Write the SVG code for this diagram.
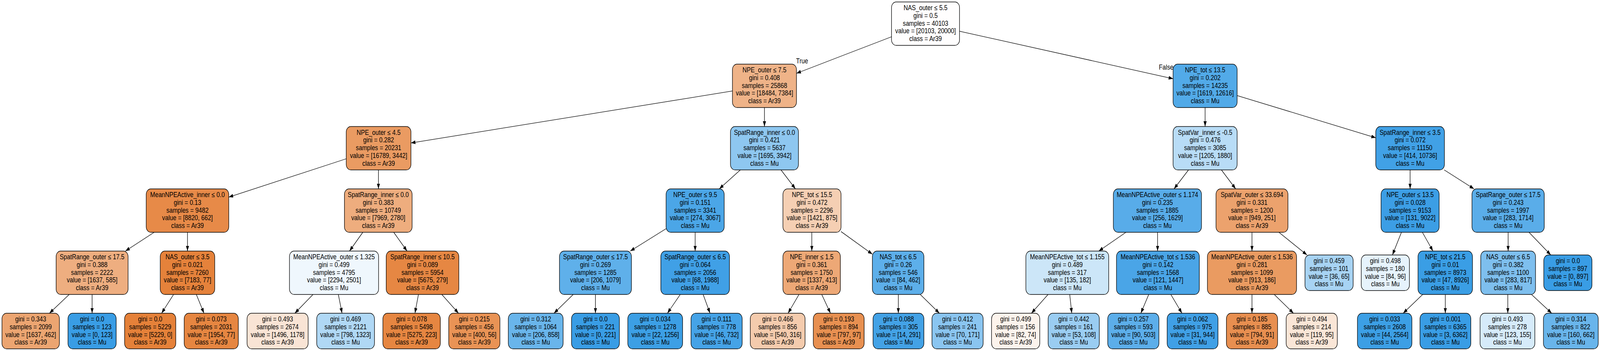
<svg xmlns="http://www.w3.org/2000/svg" width="4847" height="895" viewBox="0 0 4847 895">
<defs>
<marker id="ah" markerUnits="userSpaceOnUse" markerWidth="14" markerHeight="10" refX="13.5" refY="4.75" orient="auto"><path d="M0,0 L13.5,4.75 L0,9.5 z" fill="#000"/></marker>
<style>
text{font-family:"Liberation Sans",Arial,Helvetica,sans-serif;font-size:18px;text-anchor:middle;fill:#000}
.nd rect{stroke:#000;stroke-width:1.3;vector-effect:non-scaling-stroke}
#edges line{stroke:#000;stroke-width:1.3;fill:none;marker-end:url(#ah);vector-effect:non-scaling-stroke}
</style>
</defs>
<rect width="4847" height="895" fill="#fff"/>
<g id="diagram" transform="scale(0.845,1)">
<g id="edges">
<line x1="2701" y1="94" x2="2413" y2="187.5"/>
<line x1="2907" y1="79.8" x2="3554" y2="201.3"/>
<line x1="2219" y1="232.7" x2="1245" y2="365.6"/>
<line x1="2316" y1="275" x2="2316" y2="323.5"/>
<line x1="3651" y1="275" x2="3651" y2="323.5"/>
<line x1="3748" y1="244.4" x2="4168" y2="352.3"/>
<line x1="1049" y1="406" x2="693" y2="504.1"/>
<line x1="1146.5" y1="434.5" x2="1146.5" y2="483"/>
<line x1="2242.9" y1="434.5" x2="2179.1" y2="483"/>
<line x1="2366.1" y1="434.5" x2="2409.9" y2="483"/>
<line x1="3600.7" y1="434.5" x2="3556.8" y2="483"/>
<line x1="3700.4" y1="434.5" x2="3743.6" y2="483"/>
<line x1="4272" y1="434.5" x2="4272" y2="483"/>
<line x1="4375.4" y1="434.5" x2="4465.6" y2="483"/>
<line x1="467.1" y1="594" x2="379.9" y2="642"/>
<line x1="568" y1="594" x2="568" y2="642"/>
<line x1="1099.2" y1="594" x2="1058.8" y2="642"/>
<line x1="1192.8" y1="594" x2="1233.2" y2="642"/>
<line x1="2018" y1="584.8" x2="1909.4" y2="642"/>
<line x1="2106" y1="594" x2="2106" y2="642"/>
<line x1="2459.5" y1="594" x2="2459.5" y2="642"/>
<line x1="2548" y1="592.1" x2="2643" y2="650"/>
<line x1="3411.2" y1="594" x2="3328.8" y2="642"/>
<line x1="3507" y1="594" x2="3507" y2="642"/>
<line x1="3793" y1="594" x2="3793" y2="642"/>
<line x1="3874.5" y1="594" x2="3959.7" y2="652"/>
<line x1="4245.8" y1="594" x2="4218.5" y2="652"/>
<line x1="4309.2" y1="594" x2="4341.3" y2="642"/>
<line x1="4569" y1="594" x2="4569" y2="642"/>
<line x1="4632.2" y1="594" x2="4698.2" y2="652"/>
<line x1="209.7" y1="753" x2="149.8" y2="801"/>
<line x1="279" y1="753" x2="279" y2="801"/>
<line x1="525.9" y1="753" x2="489.5" y2="801"/>
<line x1="594.8" y1="753" x2="618" y2="801"/>
<line x1="948.3" y1="753" x2="893.2" y2="801"/>
<line x1="1025" y1="753" x2="1036.3" y2="801"/>
<line x1="1267.7" y1="753" x2="1257.1" y2="801"/>
<line x1="1338.5" y1="753" x2="1389.1" y2="801"/>
<line x1="1736.6" y1="753" x2="1678.3" y2="801"/>
<line x1="1804" y1="753" x2="1804" y2="801"/>
<line x1="2060.9" y1="753" x2="2022" y2="801"/>
<line x1="2130.2" y1="753" x2="2151.1" y2="801"/>
<line x1="2420.6" y1="753" x2="2387.5" y2="801"/>
<line x1="2489.5" y1="753" x2="2516" y2="801"/>
<line x1="2721.5" y1="753" x2="2721.5" y2="801"/>
<line x1="2788" y1="753" x2="2846" y2="801"/>
<line x1="3175.2" y1="753" x2="3124.8" y2="801"/>
<line x1="3240.8" y1="753" x2="3247" y2="801"/>
<line x1="3480.2" y1="753" x2="3456.3" y2="801"/>
<line x1="3547.1" y1="753" x2="3580.9" y2="801"/>
<line x1="3793" y1="753" x2="3793" y2="801"/>
<line x1="3860.4" y1="753" x2="3918.7" y2="801"/>
<line x1="4310.1" y1="753" x2="4251" y2="801"/>
<line x1="4378.7" y1="753" x2="4378.7" y2="801"/>
<line x1="4568" y1="753" x2="4568" y2="801"/>
<line x1="4639.8" y1="753" x2="4701" y2="801"/>
<text x="2430" y="162">True</text>
<text x="3533" y="178">False</text>
</g>
<g id="n0" class="nd" transform="translate(2804,60.5)"><rect x="-103" y="-55.5" width="206" height="111" rx="14" fill="#fffefe"/><text><tspan x="0" y="-34.4">NAS_outer ≤ 5.5</tspan><tspan x="0" y="-14.6">gini = 0.5</tspan><tspan x="0" y="5.2">samples = 40103</tspan><tspan x="0" y="25">value = [20103, 20000]</tspan><tspan x="0" y="44.8">class = Ar39</tspan></text></g>
<g id="n1" class="nd" transform="translate(2316,219.5)"><rect x="-97" y="-55.5" width="194" height="111" rx="14" fill="#efb388"/><text><tspan x="0" y="-34.4">NPE_outer ≤ 7.5</tspan><tspan x="0" y="-14.6">gini = 0.408</tspan><tspan x="0" y="5.2">samples = 25868</tspan><tspan x="0" y="25">value = [18484, 7384]</tspan><tspan x="0" y="44.8">class = Ar39</tspan></text></g>
<g id="n2" class="nd" transform="translate(3651,219.5)"><rect x="-97" y="-55.5" width="194" height="111" rx="14" fill="#52aae8"/><text><tspan x="0" y="-34.4">NPE_tot ≤ 13.5</tspan><tspan x="0" y="-14.6">gini = 0.202</tspan><tspan x="0" y="5.2">samples = 14235</tspan><tspan x="0" y="25">value = [1619, 12616]</tspan><tspan x="0" y="44.8">class = Mu</tspan></text></g>
<g id="n3" class="nd" transform="translate(1147,379)"><rect x="-98" y="-55.5" width="196" height="111" rx="14" fill="#ea9b62"/><text><tspan x="0" y="-34.4">NPE_outer ≤ 4.5</tspan><tspan x="0" y="-14.6">gini = 0.282</tspan><tspan x="0" y="5.2">samples = 20231</tspan><tspan x="0" y="25">value = [16789, 3442]</tspan><tspan x="0" y="44.8">class = Ar39</tspan></text></g>
<g id="n4" class="nd" transform="translate(2316,379)"><rect x="-103" y="-55.5" width="206" height="111" rx="14" fill="#8ec7f0"/><text><tspan x="0" y="-34.4">SpatRange_inner ≤ 0.0</tspan><tspan x="0" y="-14.6">gini = 0.421</tspan><tspan x="0" y="5.2">samples = 5637</tspan><tspan x="0" y="25">value = [1695, 3942]</tspan><tspan x="0" y="44.8">class = Mu</tspan></text></g>
<g id="n5" class="nd" transform="translate(3651,379)"><rect x="-97" y="-55.5" width="194" height="111" rx="14" fill="#b8dcf6"/><text><tspan x="0" y="-34.4">SpatVar_inner ≤ -0.5</tspan><tspan x="0" y="-14.6">gini = 0.476</tspan><tspan x="0" y="5.2">samples = 3085</tspan><tspan x="0" y="25">value = [1205, 1880]</tspan><tspan x="0" y="44.8">class = Mu</tspan></text></g>
<g id="n6" class="nd" transform="translate(4272,379)"><rect x="-104" y="-55.5" width="208" height="111" rx="14" fill="#41a1e6"/><text><tspan x="0" y="-34.4">SpatRange_inner ≤ 3.5</tspan><tspan x="0" y="-14.6">gini = 0.072</tspan><tspan x="0" y="5.2">samples = 11150</tspan><tspan x="0" y="25">value = [414, 10736]</tspan><tspan x="0" y="44.8">class = Mu</tspan></text></g>
<g id="n7" class="nd" transform="translate(568,538.5)"><rect x="-125" y="-55.5" width="250" height="111" rx="14" fill="#e78a48"/><text><tspan x="0" y="-34.4">MeanNPEActive_inner ≤ 0.0</tspan><tspan x="0" y="-14.6">gini = 0.13</tspan><tspan x="0" y="5.2">samples = 9482</tspan><tspan x="0" y="25">value = [8820, 662]</tspan><tspan x="0" y="44.8">class = Ar39</tspan></text></g>
<g id="n8" class="nd" transform="translate(1146,538.5)"><rect x="-102.5" y="-55.5" width="205" height="111" rx="14" fill="#eead7e"/><text><tspan x="0" y="-34.4">SpatRange_inner ≤ 0.0</tspan><tspan x="0" y="-14.6">gini = 0.383</tspan><tspan x="0" y="5.2">samples = 10749</tspan><tspan x="0" y="25">value = [7969, 2780]</tspan><tspan x="0" y="44.8">class = Ar39</tspan></text></g>
<g id="n9" class="nd" transform="translate(2106,538.5)"><rect x="-88" y="-55.5" width="176" height="111" rx="14" fill="#4ba6e7"/><text><tspan x="0" y="-34.4">NPE_outer ≤ 9.5</tspan><tspan x="0" y="-14.6">gini = 0.151</tspan><tspan x="0" y="5.2">samples = 3341</tspan><tspan x="0" y="25">value = [274, 3067]</tspan><tspan x="0" y="44.8">class = Mu</tspan></text></g>
<g id="n10" class="nd" transform="translate(2460,538.5)"><rect x="-88" y="-55.5" width="176" height="111" rx="14" fill="#f5cfb3"/><text><tspan x="0" y="-34.4">NPE_tot ≤ 15.5</tspan><tspan x="0" y="-14.6">gini = 0.472</tspan><tspan x="0" y="5.2">samples = 2296</tspan><tspan x="0" y="25">value = [1421, 875]</tspan><tspan x="0" y="44.8">class = Ar39</tspan></text></g>
<g id="n11" class="nd" transform="translate(3506.5,538.5)"><rect x="-133.5" y="-55.5" width="267" height="111" rx="14" fill="#58ace9"/><text><tspan x="0" y="-34.4">MeanNPEActive_outer ≤ 1.174</tspan><tspan x="0" y="-14.6">gini = 0.235</tspan><tspan x="0" y="5.2">samples = 1885</tspan><tspan x="0" y="25">value = [256, 1629]</tspan><tspan x="0" y="44.8">class = Mu</tspan></text></g>
<g id="n12" class="nd" transform="translate(3793,538.5)"><rect x="-109" y="-55.5" width="218" height="111" rx="14" fill="#eca26d"/><text><tspan x="0" y="-34.4">SpatVar_outer ≤ 33.694</tspan><tspan x="0" y="-14.6">gini = 0.331</tspan><tspan x="0" y="5.2">samples = 1200</tspan><tspan x="0" y="25">value = [949, 251]</tspan><tspan x="0" y="44.8">class = Ar39</tspan></text></g>
<g id="n13" class="nd" transform="translate(4272,538.5)"><rect x="-88" y="-55.5" width="176" height="111" rx="14" fill="#3c9ee5"/><text><tspan x="0" y="-34.4">NPE_outer ≤ 13.5</tspan><tspan x="0" y="-14.6">gini = 0.028</tspan><tspan x="0" y="5.2">samples = 9153</tspan><tspan x="0" y="25">value = [131, 9022]</tspan><tspan x="0" y="44.8">class = Mu</tspan></text></g>
<g id="n14" class="nd" transform="translate(4569,538.5)"><rect x="-109.5" y="-55.5" width="219" height="111" rx="14" fill="#5aade9"/><text><tspan x="0" y="-34.4">SpatRange_outer ≤ 17.5</tspan><tspan x="0" y="-14.6">gini = 0.243</tspan><tspan x="0" y="5.2">samples = 1997</tspan><tspan x="0" y="25">value = [283, 1714]</tspan><tspan x="0" y="44.8">class = Mu</tspan></text></g>
<g id="n15" class="nd" transform="translate(279,697.5)"><rect x="-109" y="-55.5" width="218" height="111" rx="14" fill="#eeae80"/><text><tspan x="0" y="-34.4">SpatRange_outer ≤ 17.5</tspan><tspan x="0" y="-14.6">gini = 0.388</tspan><tspan x="0" y="5.2">samples = 2222</tspan><tspan x="0" y="25">value = [1637, 585]</tspan><tspan x="0" y="44.8">class = Ar39</tspan></text></g>
<g id="n16" class="nd" transform="translate(568,697.5)"><rect x="-82.5" y="-55.5" width="165" height="111" rx="14" fill="#e5823b"/><text><tspan x="0" y="-34.4">NAS_outer ≤ 3.5</tspan><tspan x="0" y="-14.6">gini = 0.021</tspan><tspan x="0" y="5.2">samples = 7260</tspan><tspan x="0" y="25">value = [7183, 77]</tspan><tspan x="0" y="44.8">class = Ar39</tspan></text></g>
<g id="n17" class="nd" transform="translate(1012,697.5)"><rect x="-135" y="-55.5" width="270" height="111" rx="14" fill="#eff7fd"/><text><tspan x="0" y="-34.4">MeanNPEActive_outer ≤ 1.325</tspan><tspan x="0" y="-14.6">gini = 0.499</tspan><tspan x="0" y="5.2">samples = 4795</tspan><tspan x="0" y="25">value = [2294, 2501]</tspan><tspan x="0" y="44.8">class = Mu</tspan></text></g>
<g id="n18" class="nd" transform="translate(1280,697.5)"><rect x="-110" y="-55.5" width="220" height="111" rx="14" fill="#e68743"/><text><tspan x="0" y="-34.4">SpatRange_inner ≤ 10.5</tspan><tspan x="0" y="-14.6">gini = 0.089</tspan><tspan x="0" y="5.2">samples = 5954</tspan><tspan x="0" y="25">value = [5675, 279]</tspan><tspan x="0" y="44.8">class = Ar39</tspan></text></g>
<g id="n19" class="nd" transform="translate(1804,697.5)"><rect x="-109" y="-55.5" width="218" height="111" rx="14" fill="#5fb0ea"/><text><tspan x="0" y="-34.4">SpatRange_outer ≤ 17.5</tspan><tspan x="0" y="-14.6">gini = 0.269</tspan><tspan x="0" y="5.2">samples = 1285</tspan><tspan x="0" y="25">value = [206, 1079]</tspan><tspan x="0" y="44.8">class = Mu</tspan></text></g>
<g id="n20" class="nd" transform="translate(2106,697.5)"><rect x="-104" y="-55.5" width="208" height="111" rx="14" fill="#40a0e6"/><text><tspan x="0" y="-34.4">SpatRange_outer ≤ 6.5</tspan><tspan x="0" y="-14.6">gini = 0.064</tspan><tspan x="0" y="5.2">samples = 2056</tspan><tspan x="0" y="25">value = [68, 1988]</tspan><tspan x="0" y="44.8">class = Mu</tspan></text></g>
<g id="n21" class="nd" transform="translate(2459,697.5)"><rect x="-87" y="-55.5" width="174" height="111" rx="14" fill="#eda876"/><text><tspan x="0" y="-34.4">NPE_inner ≤ 1.5</tspan><tspan x="0" y="-14.6">gini = 0.361</tspan><tspan x="0" y="5.2">samples = 1750</tspan><tspan x="0" y="25">value = [1337, 413]</tspan><tspan x="0" y="44.8">class = Ar39</tspan></text></g>
<g id="n22" class="nd" transform="translate(2721,697.5)"><rect x="-78" y="-55.5" width="156" height="111" rx="14" fill="#5dafea"/><text><tspan x="0" y="-34.4">NAS_tot ≤ 6.5</tspan><tspan x="0" y="-14.6">gini = 0.26</tspan><tspan x="0" y="5.2">samples = 546</tspan><tspan x="0" y="25">value = [84, 462]</tspan><tspan x="0" y="44.8">class = Mu</tspan></text></g>
<g id="n23" class="nd" transform="translate(3233.5,697.5)"><rect x="-125.5" y="-55.5" width="251" height="111" rx="14" fill="#cce6f8"/><text><tspan x="0" y="-34.4">MeanNPEActive_tot ≤ 1.155</tspan><tspan x="0" y="-14.6">gini = 0.489</tspan><tspan x="0" y="5.2">samples = 317</tspan><tspan x="0" y="25">value = [135, 182]</tspan><tspan x="0" y="44.8">class = Mu</tspan></text></g>
<g id="n24" class="nd" transform="translate(3508,697.5)"><rect x="-125.5" y="-55.5" width="251" height="111" rx="14" fill="#4aa5e7"/><text><tspan x="0" y="-34.4">MeanNPEActive_tot ≤ 1.536</tspan><tspan x="0" y="-14.6">gini = 0.142</tspan><tspan x="0" y="5.2">samples = 1568</tspan><tspan x="0" y="25">value = [121, 1447]</tspan><tspan x="0" y="44.8">class = Mu</tspan></text></g>
<g id="n25" class="nd" transform="translate(3793,697.5)"><rect x="-135" y="-55.5" width="270" height="111" rx="14" fill="#ea9b61"/><text><tspan x="0" y="-34.4">MeanNPEActive_outer ≤ 1.536</tspan><tspan x="0" y="-14.6">gini = 0.281</tspan><tspan x="0" y="5.2">samples = 1099</tspan><tspan x="0" y="25">value = [913, 186]</tspan><tspan x="0" y="44.8">class = Ar39</tspan></text></g>
<g id="n26" class="nd" transform="translate(4026.5,697.5)"><rect x="-73" y="-45.5" width="146" height="91" rx="14" fill="#a7d3f3"/><text><tspan x="0" y="-24.5">gini = 0.459</tspan><tspan x="0" y="-4.7">samples = 101</tspan><tspan x="0" y="15.1">value = [36, 65]</tspan><tspan x="0" y="34.9">class = Mu</tspan></text></g>
<g id="n27" class="nd" transform="translate(4197,697.5)"><rect x="-73" y="-45.5" width="146" height="91" rx="14" fill="#e6f3fc"/><text><tspan x="0" y="-24.5">gini = 0.498</tspan><tspan x="0" y="-4.7">samples = 180</tspan><tspan x="0" y="15.1">value = [84, 96]</tspan><tspan x="0" y="34.9">class = Mu</tspan></text></g>
<g id="n28" class="nd" transform="translate(4378.5,697.5)"><rect x="-82.5" y="-55.5" width="165" height="111" rx="14" fill="#3a9ee5"/><text><tspan x="0" y="-34.4">NPE_tot ≤ 21.5</tspan><tspan x="0" y="-14.6">gini = 0.01</tspan><tspan x="0" y="5.2">samples = 8973</tspan><tspan x="0" y="25">value = [47, 8926]</tspan><tspan x="0" y="44.8">class = Mu</tspan></text></g>
<g id="n29" class="nd" transform="translate(4569,697.5)"><rect x="-83" y="-55.5" width="166" height="111" rx="14" fill="#7ebfee"/><text><tspan x="0" y="-34.4">NAS_outer ≤ 6.5</tspan><tspan x="0" y="-14.6">gini = 0.382</tspan><tspan x="0" y="5.2">samples = 1100</tspan><tspan x="0" y="25">value = [283, 817]</tspan><tspan x="0" y="44.8">class = Mu</tspan></text></g>
<g id="n30" class="nd" transform="translate(4750,697.5)"><rect x="-73" y="-45.5" width="146" height="91" rx="14" fill="#399de5"/><text><tspan x="0" y="-24.5">gini = 0.0</tspan><tspan x="0" y="-4.7">samples = 897</tspan><tspan x="0" y="15.1">value = [0, 897]</tspan><tspan x="0" y="34.9">class = Mu</tspan></text></g>
<g id="n31" class="nd" transform="translate(93,846.5)"><rect x="-87" y="-45.5" width="174" height="91" rx="14" fill="#eca571"/><text><tspan x="0" y="-24.5">gini = 0.343</tspan><tspan x="0" y="-4.7">samples = 2099</tspan><tspan x="0" y="15.1">value = [1637, 462]</tspan><tspan x="0" y="34.9">class = Ar39</tspan></text></g>
<g id="n32" class="nd" transform="translate(279,846.5)"><rect x="-73" y="-45.5" width="146" height="91" rx="14" fill="#399de5"/><text><tspan x="0" y="-24.5">gini = 0.0</tspan><tspan x="0" y="-4.7">samples = 123</tspan><tspan x="0" y="15.1">value = [0, 123]</tspan><tspan x="0" y="34.9">class = Mu</tspan></text></g>
<g id="n33" class="nd" transform="translate(455,846.5)"><rect x="-77.5" y="-45.5" width="155" height="91" rx="14" fill="#e58139"/><text><tspan x="0" y="-24.5">gini = 0.0</tspan><tspan x="0" y="-4.7">samples = 5229</tspan><tspan x="0" y="15.1">value = [5229, 0]</tspan><tspan x="0" y="34.9">class = Ar39</tspan></text></g>
<g id="n34" class="nd" transform="translate(640,846.5)"><rect x="-82" y="-45.5" width="164" height="91" rx="14" fill="#e68641"/><text><tspan x="0" y="-24.5">gini = 0.073</tspan><tspan x="0" y="-4.7">samples = 2031</tspan><tspan x="0" y="15.1">value = [1954, 77]</tspan><tspan x="0" y="34.9">class = Ar39</tspan></text></g>
<g id="n35" class="nd" transform="translate(841,846.5)"><rect x="-92.5" y="-45.5" width="185" height="91" rx="14" fill="#f9e4d5"/><text><tspan x="0" y="-24.5">gini = 0.493</tspan><tspan x="0" y="-4.7">samples = 2674</tspan><tspan x="0" y="15.1">value = [1496, 1178]</tspan><tspan x="0" y="34.9">class = Ar39</tspan></text></g>
<g id="n36" class="nd" transform="translate(1047,846.5)"><rect x="-87.5" y="-45.5" width="175" height="91" rx="14" fill="#b0d8f5"/><text><tspan x="0" y="-24.5">gini = 0.469</tspan><tspan x="0" y="-4.7">samples = 2121</tspan><tspan x="0" y="15.1">value = [798, 1323]</tspan><tspan x="0" y="34.9">class = Mu</tspan></text></g>
<g id="n37" class="nd" transform="translate(1247,846.5)"><rect x="-87" y="-45.5" width="174" height="91" rx="14" fill="#e68641"/><text><tspan x="0" y="-24.5">gini = 0.078</tspan><tspan x="0" y="-4.7">samples = 5498</tspan><tspan x="0" y="15.1">value = [5275, 223]</tspan><tspan x="0" y="34.9">class = Ar39</tspan></text></g>
<g id="n38" class="nd" transform="translate(1437,846.5)"><rect x="-77.5" y="-45.5" width="155" height="91" rx="14" fill="#e99355"/><text><tspan x="0" y="-24.5">gini = 0.215</tspan><tspan x="0" y="-4.7">samples = 456</tspan><tspan x="0" y="15.1">value = [400, 56]</tspan><tspan x="0" y="34.9">class = Ar39</tspan></text></g>
<g id="n39" class="nd" transform="translate(1623,846.5)"><rect x="-83" y="-45.5" width="166" height="91" rx="14" fill="#69b5eb"/><text><tspan x="0" y="-24.5">gini = 0.312</tspan><tspan x="0" y="-4.7">samples = 1064</tspan><tspan x="0" y="15.1">value = [206, 858]</tspan><tspan x="0" y="34.9">class = Mu</tspan></text></g>
<g id="n40" class="nd" transform="translate(1804,846.5)"><rect x="-72.5" y="-45.5" width="145" height="91" rx="14" fill="#399de5"/><text><tspan x="0" y="-24.5">gini = 0.0</tspan><tspan x="0" y="-4.7">samples = 221</tspan><tspan x="0" y="15.1">value = [0, 221]</tspan><tspan x="0" y="34.9">class = Mu</tspan></text></g>
<g id="n41" class="nd" transform="translate(1985,846.5)"><rect x="-83" y="-45.5" width="166" height="91" rx="14" fill="#3c9fe5"/><text><tspan x="0" y="-24.5">gini = 0.034</tspan><tspan x="0" y="-4.7">samples = 1278</tspan><tspan x="0" y="15.1">value = [22, 1256]</tspan><tspan x="0" y="34.9">class = Mu</tspan></text></g>
<g id="n42" class="nd" transform="translate(2171,846.5)"><rect x="-77.5" y="-45.5" width="155" height="91" rx="14" fill="#45a3e7"/><text><tspan x="0" y="-24.5">gini = 0.111</tspan><tspan x="0" y="-4.7">samples = 778</tspan><tspan x="0" y="15.1">value = [46, 732]</tspan><tspan x="0" y="34.9">class = Mu</tspan></text></g>
<g id="n43" class="nd" transform="translate(2356,846.5)"><rect x="-83" y="-45.5" width="166" height="91" rx="14" fill="#f4cbad"/><text><tspan x="0" y="-24.5">gini = 0.466</tspan><tspan x="0" y="-4.7">samples = 856</tspan><tspan x="0" y="15.1">value = [540, 316]</tspan><tspan x="0" y="34.9">class = Ar39</tspan></text></g>
<g id="n44" class="nd" transform="translate(2541,846.5)"><rect x="-77" y="-45.5" width="154" height="91" rx="14" fill="#e89051"/><text><tspan x="0" y="-24.5">gini = 0.193</tspan><tspan x="0" y="-4.7">samples = 894</tspan><tspan x="0" y="15.1">value = [797, 97]</tspan><tspan x="0" y="34.9">class = Ar39</tspan></text></g>
<g id="n45" class="nd" transform="translate(2722,846.5)"><rect x="-77" y="-45.5" width="154" height="91" rx="14" fill="#43a2e6"/><text><tspan x="0" y="-24.5">gini = 0.088</tspan><tspan x="0" y="-4.7">samples = 305</tspan><tspan x="0" y="15.1">value = [14, 291]</tspan><tspan x="0" y="34.9">class = Mu</tspan></text></g>
<g id="n46" class="nd" transform="translate(2901,846.5)"><rect x="-77.5" y="-45.5" width="155" height="91" rx="14" fill="#8ac5f0"/><text><tspan x="0" y="-24.5">gini = 0.412</tspan><tspan x="0" y="-4.7">samples = 241</tspan><tspan x="0" y="15.1">value = [70, 171]</tspan><tspan x="0" y="34.9">class = Mu</tspan></text></g>
<g id="n47" class="nd" transform="translate(3077,846.5)"><rect x="-73" y="-45.5" width="146" height="91" rx="14" fill="#fcf3ec"/><text><tspan x="0" y="-24.5">gini = 0.499</tspan><tspan x="0" y="-4.7">samples = 156</tspan><tspan x="0" y="15.1">value = [82, 74]</tspan><tspan x="0" y="34.9">class = Ar39</tspan></text></g>
<g id="n48" class="nd" transform="translate(3253,846.5)"><rect x="-77.5" y="-45.5" width="155" height="91" rx="14" fill="#9acdf2"/><text><tspan x="0" y="-24.5">gini = 0.442</tspan><tspan x="0" y="-4.7">samples = 161</tspan><tspan x="0" y="15.1">value = [53, 108]</tspan><tspan x="0" y="34.9">class = Mu</tspan></text></g>
<g id="n49" class="nd" transform="translate(3433.5,846.5)"><rect x="-77.5" y="-45.5" width="155" height="91" rx="14" fill="#5caeea"/><text><tspan x="0" y="-24.5">gini = 0.257</tspan><tspan x="0" y="-4.7">samples = 593</tspan><tspan x="0" y="15.1">value = [90, 503]</tspan><tspan x="0" y="34.9">class = Mu</tspan></text></g>
<g id="n50" class="nd" transform="translate(3613,846.5)"><rect x="-77" y="-45.5" width="154" height="91" rx="14" fill="#40a0e6"/><text><tspan x="0" y="-24.5">gini = 0.062</tspan><tspan x="0" y="-4.7">samples = 975</tspan><tspan x="0" y="15.1">value = [31, 944]</tspan><tspan x="0" y="34.9">class = Mu</tspan></text></g>
<g id="n51" class="nd" transform="translate(3793,846.5)"><rect x="-77.5" y="-45.5" width="155" height="91" rx="14" fill="#e88f50"/><text><tspan x="0" y="-24.5">gini = 0.185</tspan><tspan x="0" y="-4.7">samples = 885</tspan><tspan x="0" y="15.1">value = [794, 91]</tspan><tspan x="0" y="34.9">class = Ar39</tspan></text></g>
<g id="n52" class="nd" transform="translate(3974,846.5)"><rect x="-77.5" y="-45.5" width="155" height="91" rx="14" fill="#fae6d7"/><text><tspan x="0" y="-24.5">gini = 0.494</tspan><tspan x="0" y="-4.7">samples = 214</tspan><tspan x="0" y="15.1">value = [119, 95]</tspan><tspan x="0" y="34.9">class = Ar39</tspan></text></g>
<g id="n53" class="nd" transform="translate(4195,846.5)"><rect x="-82.5" y="-45.5" width="165" height="91" rx="14" fill="#3c9fe5"/><text><tspan x="0" y="-24.5">gini = 0.033</tspan><tspan x="0" y="-4.7">samples = 2608</tspan><tspan x="0" y="15.1">value = [44, 2564]</tspan><tspan x="0" y="34.9">class = Mu</tspan></text></g>
<g id="n54" class="nd" transform="translate(4379,846.5)"><rect x="-77" y="-45.5" width="154" height="91" rx="14" fill="#399de5"/><text><tspan x="0" y="-24.5">gini = 0.001</tspan><tspan x="0" y="-4.7">samples = 6365</tspan><tspan x="0" y="15.1">value = [3, 6362]</tspan><tspan x="0" y="34.9">class = Mu</tspan></text></g>
<g id="n55" class="nd" transform="translate(4567,846.5)"><rect x="-83" y="-45.5" width="166" height="91" rx="14" fill="#d6ebfa"/><text><tspan x="0" y="-24.5">gini = 0.493</tspan><tspan x="0" y="-4.7">samples = 278</tspan><tspan x="0" y="15.1">value = [123, 155]</tspan><tspan x="0" y="34.9">class = Mu</tspan></text></g>
<g id="n56" class="nd" transform="translate(4759,846.5)"><rect x="-83" y="-45.5" width="166" height="91" rx="14" fill="#69b5eb"/><text><tspan x="0" y="-24.5">gini = 0.314</tspan><tspan x="0" y="-4.7">samples = 822</tspan><tspan x="0" y="15.1">value = [160, 662]</tspan><tspan x="0" y="34.9">class = Mu</tspan></text></g>
</g>
</svg>
